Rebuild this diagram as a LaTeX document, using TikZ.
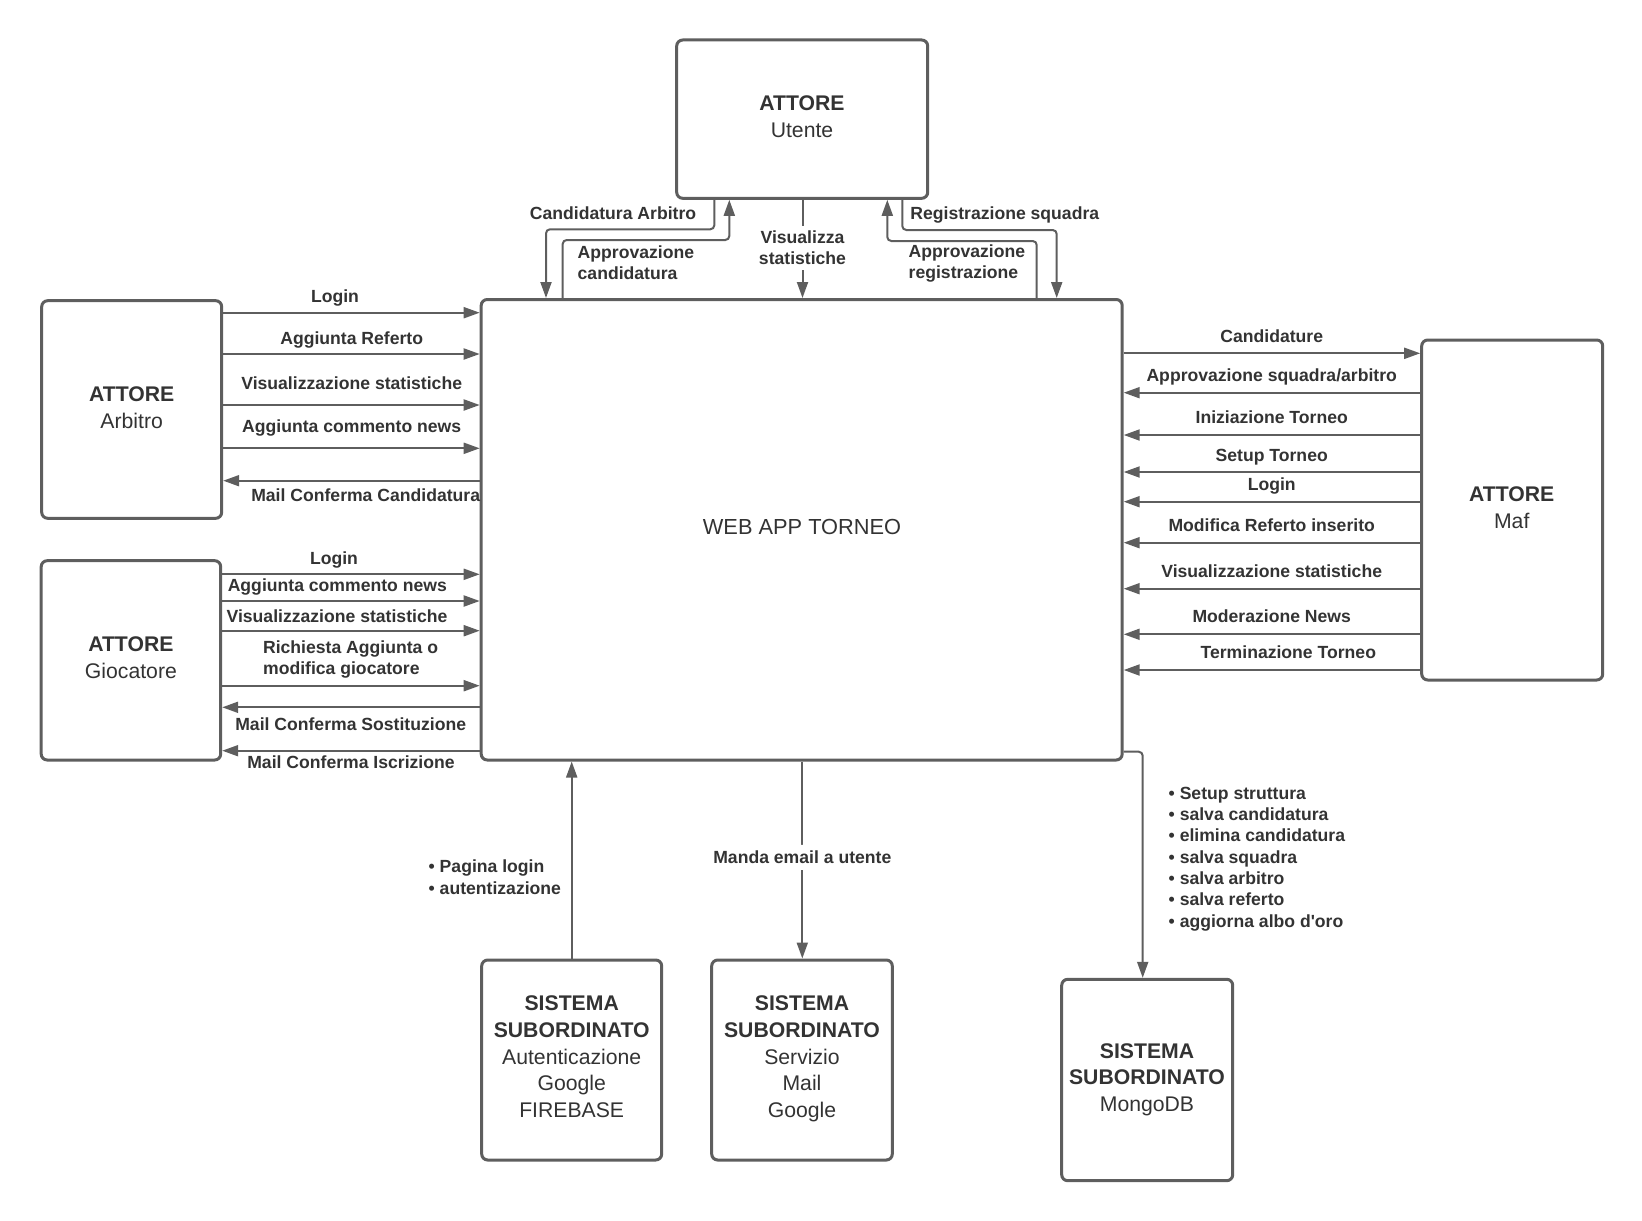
\documentclass[tikz,border=0pt]{standalone}
\usepackage{fontspec}
\setmainfont{Liberation Sans}[Ligatures=TeXOff]
\usetikzlibrary{arrows.meta,fit}
\definecolor{linec}{HTML}{5E5E5E}
\definecolor{txt}{HTML}{333333}
\begin{document}
\begin{tikzpicture}[x=0.5pt,y=-0.5pt,
  box/.style={draw=linec, line width=1.5pt, rounded corners=3pt, inner sep=0pt},
  boxtxt/.style={text=txt, font=\fontsize{10.6}{13.35}\selectfont, inner sep=0pt,
    align=center, anchor=base},
  conn/.style={draw=linec, line width=1pt, rounded corners=2pt,
    -{Triangle[length=8pt,width=5.5pt]}},
  lbl/.style={text=txt, font=\bfseries\fontsize{8.8}{10.4}\selectfont,
    inner sep=0pt, anchor=base},
  lbll/.style={lbl, anchor=base west, align=left},
  cut/.style={lbl, anchor=center, align=center, fill=white, inner xsep=1pt}]
\useasboundingbox (0,0) rectangle (1642,1220);

% boxes
\node[box, fit={(676.7,40) (927.7,198.3)}] (utente) {};
\node[box, fit={(481.2,299.5) (1122.2,760)}] (main) {};
\node[box, fit={(41.7,300.7) (221.7,518.3)}] (arb) {};
\node[box, fit={(41.2,560.7) (220.7,760)}] (gioc) {};
\node[box, fit={(1421.7,340) (1602.7,680)}] (maf) {};
\node[box, fit={(481.7,960) (661.7,1160)}] (fire) {};
\node[box, fit={(711.7,960) (892.3,1160)}] (mail) {};
\node[box, fit={(1061.7,979.3) (1232.7,1180.7)}] (mongo) {};

% box texts (base = baseline of the last line)
\node[boxtxt] (tutente) at (802,137.6) {{\bfseries ATTORE}\\Utente};
\node[boxtxt, font=\fontsize{10.9}{13.35}\selectfont] (tmain) at (802,534.5) {WEB APP TORNEO};
\node[boxtxt] (tarb) at (131.7,428.6) {{\bfseries ATTORE}\\Arbitro};
\node[boxtxt] (tgioc) at (130.9,678.3) {{\bfseries ATTORE}\\Giocatore};
\node[boxtxt] (tmaf) at (1511.7,528.6) {{\bfseries ATTORE}\\Maf};
\node[boxtxt] (tfire) at (571.7,1117.6) {{\bfseries SISTEMA}\\{\bfseries SUBORDINATO}\\Autenticazione\\Google\\FIREBASE};
\node[boxtxt] (tmail) at (802,1117.6) {{\bfseries SISTEMA}\\{\bfseries SUBORDINATO}\\Servizio\\Mail\\Google};
\node[boxtxt] (tmongo) at (1147,1111.6) {{\bfseries SISTEMA}\\{\bfseries SUBORDINATO}\\MongoDB};

% Utente <-> web app
\draw[conn] (utente.south -| 714.3,0) -- (714.3,229.3) -- (546,229.3) -- (main.north -| 546,0);
\draw[conn] (main.north -| 562.7,0) -- (562.7,240) -- (729.3,240) -- (utente.south -| 729.3,0);
\draw[conn] (utente.south -| 802.5,0) -- node[cut, inner ysep=2.5pt, pos=0.49] (lvis) {Visualizza\\statistiche} (main.north -| 802.5,0);
\draw[conn] (utente.south -| 902.3,0) -- (902.3,230) -- (1056.7,230) -- (main.north -| 1056.7,0);
\draw[conn] (main.north -| 1036.7,0) -- (1036.7,241) -- (887.3,241) -- (utente.south -| 887.3,0);
\node[lbl] (lcand) at (613,219.3) {Candidatura Arbitro};
\node[lbll] (lappc) at (577.3,279.3) {Approvazione\\candidatura};
\node[lbll] (lreg) at (910,219.3) {Registrazione squadra};
\node[lbll] (lappr) at (908.3,278.7) {Approvazione\\registrazione};

% Arbitro <-> web app
\draw[conn] (arb.east |- 0,312.7) -- (main.west |- 0,312.7);
\draw[conn] (arb.east |- 0,354) -- (main.west |- 0,354);
\draw[conn] (arb.east |- 0,405) -- (main.west |- 0,405);
\draw[conn] (arb.east |- 0,448.3) -- (main.west |- 0,448.3);
\draw[conn] (main.west |- 0,480.7) -- (arb.east |- 0,480.7);
\node[lbl] (a1) at (335,302) {Login};
\node[lbl] (a2) at (351.7,344.3) {Aggiunta Referto};
\node[lbl] (a3) at (351.7,389.3) {Visualizzazione statistiche};
\node[lbl] (a4) at (351.7,432.7) {Aggiunta commento news};
\node[lbl] (a5) at (365.7,501) {Mail Conferma Candidatura};

% Giocatore <-> web app
\draw[conn] (gioc.east |- 0,574.3) -- (main.west |- 0,574.3);
\draw[conn] (gioc.east |- 0,601) -- (main.west |- 0,601);
\draw[conn] (gioc.east |- 0,630.7) -- (main.west |- 0,630.7);
\draw[conn] (gioc.east |- 0,685.7) -- (main.west |- 0,685.7);
\draw[conn] (main.west |- 0,707.3) -- (gioc.east |- 0,707.3);
\draw[conn] (main.west |- 0,750.7) -- (gioc.east |- 0,750.7);
\node[lbl] (g1) at (334,564.3) {Login};
\node[lbl] (g2) at (337.3,591.7) {Aggiunta commento news};
\node[lbl] (g3) at (337,622) {Visualizzazione statistiche};
\node[lbll] (g4) at (262.7,674.3) {Richiesta Aggiunta o\\modifica giocatore};
\node[lbl] (g5) at (350.7,730) {Mail Conferma Sostituzione};
\node[lbl] (g6) at (351,768.7) {Mail Conferma Iscrizione};

% Maf <-> web app
\draw[conn] (main.east |- 0,353.3) -- (maf.west |- 0,353.3);
\foreach \yy in {392.7,435,472,501.7,542.7,588.7,634.3,670}
  \draw[conn] (maf.west |- 0,\yy) -- (main.east |- 0,\yy);
\node[lbl] (m1) at (1271.7,342) {Candidature};
\node[lbl] (m2) at (1271.7,381) {Approvazione squadra/arbitro};
\node[lbl] (m3) at (1271.7,423.7) {Iniziazione Torneo};
\node[lbl] (m4) at (1271.7,461) {Setup Torneo};
\node[lbl] (m5) at (1271.7,490.3) {Login};
\node[lbl] (m6) at (1271.7,531.7) {Modifica Referto inserito};
\node[lbl] (m7) at (1271.7,577.7) {Visualizzazione statistiche};
\node[lbl] (m8) at (1271.7,622.7) {Moderazione News};
\node[lbl] (m9) at (1288.3,658.7) {Terminazione Torneo};

% subordinate systems
\draw[conn] (fire.north -| 571.7,0) -- (main.south -| 571.7,0);
\node[lbll, font=\bfseries\fontsize{8.8}{10.8}\selectfont] (lfire) at (428.3,894.3) {• Pagina login\\• autentizazione};
\draw[conn] (main.south -| 802.3,0) -- node[cut, inner ysep=3pt, pos=0.487] (lmail) {Manda email a utente} (mail.north -| 802.3,0);
\draw[conn] (main.east |- 0,751.7) -- (1142.7,751.7) -- (mongo.north -| 1142.7,0);
\node[lbll, font=\bfseries\fontsize{8.8}{10.65}\selectfont] (lmongo) at (1168.3,927)
  {• Setup struttura\\• salva candidatura\\• elimina candidatura\\• salva squadra\\• salva arbitro\\• salva referto\\• aggiorna albo d'oro};
\end{tikzpicture}
\end{document}
